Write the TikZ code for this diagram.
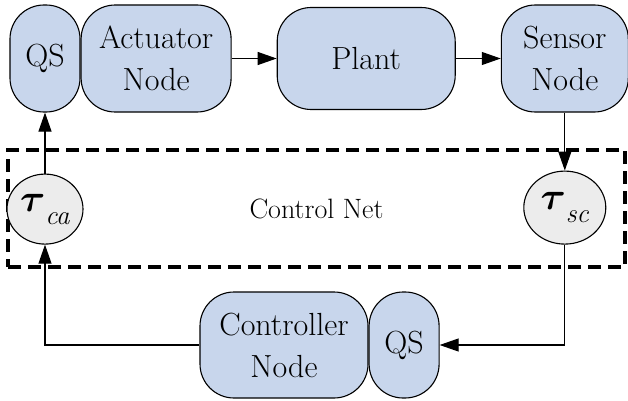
\documentclass[tikz,border=0pt]{standalone}
\usepackage{amsmath,amsbsy}
\usepackage{tikz}
\usetikzlibrary{arrows.meta,positioning,shapes.geometric}

\definecolor{nodeblue}{RGB}{200,214,236}
\definecolor{delaygray}{RGB}{236,236,236}
\newcommand{\delay}[1]{\fontsize{24}{24}\selectfont\scalebox{1.55}{$\boldsymbol{\tau}$}\raisebox{-13pt}{\fontsize{27}{27}\selectfont\textit{#1}}}

\begin{document}
\begin{tikzpicture}[
  x=1pt, y=1pt,
  font=\fontsize{32}{42}\selectfont,
  box/.style={draw, line width=1.1pt, fill=nodeblue, rounded corners=34pt,
    align=center, inner sep=0pt, minimum height=107pt},
  qsbox/.style={box, minimum width=70pt},
  delaynode/.style={draw, ellipse, line width=1.1pt, fill=delaygray, inner sep=0pt},
  netbox/.style={draw, line width=3.2pt, dash pattern=on 13pt off 7pt,
    minimum width=617pt, minimum height=117pt, font=\fontsize{28}{36}\selectfont},
  arrow/.style={-{Triangle[length=19pt,width=13pt]}, line width=1.1pt},
  node distance=45pt
]
\useasboundingbox (0,0) rectangle (628,400);

% control network
\node[netbox] (net) at (316.5,191.5) {Control Net};

% plant loop
\node[qsbox] (qsact) at (45,341.5) {QS};
\node[box, minimum width=150pt, right=0pt of qsact] (actuator) {Actuator\\Node};
\node[box, minimum width=178pt, minimum height=102pt, right=of actuator] (plant) {Plant};
\node[box, minimum width=127pt, right=of plant] (sensor) {Sensor\\Node};

% network delays
\node[delaynode, minimum width=76pt, minimum height=70pt, below=61pt of qsact] (tauca) {\delay{ca}};
\node[delaynode, minimum width=82pt, minimum height=73pt, below=58pt of sensor] (tausc) {\delay{sc}};

% controller
\node[box, minimum width=168pt, minimum height=106pt] (controller) at (284,55) {Controller\\Node};
\node[qsbox, minimum height=106pt, right=0pt of controller] (qsctrl) {QS};

\draw[arrow] (actuator) -- (plant);
\draw[arrow] (plant) -- (sensor);
\draw[arrow] (sensor) -- (tausc);
\draw[arrow] (tausc.south) |- (qsctrl.east);
\draw[arrow] (controller.west) -| (tauca.south);
\draw[arrow] (tauca) -- (qsact);
\end{tikzpicture}
\end{document}
